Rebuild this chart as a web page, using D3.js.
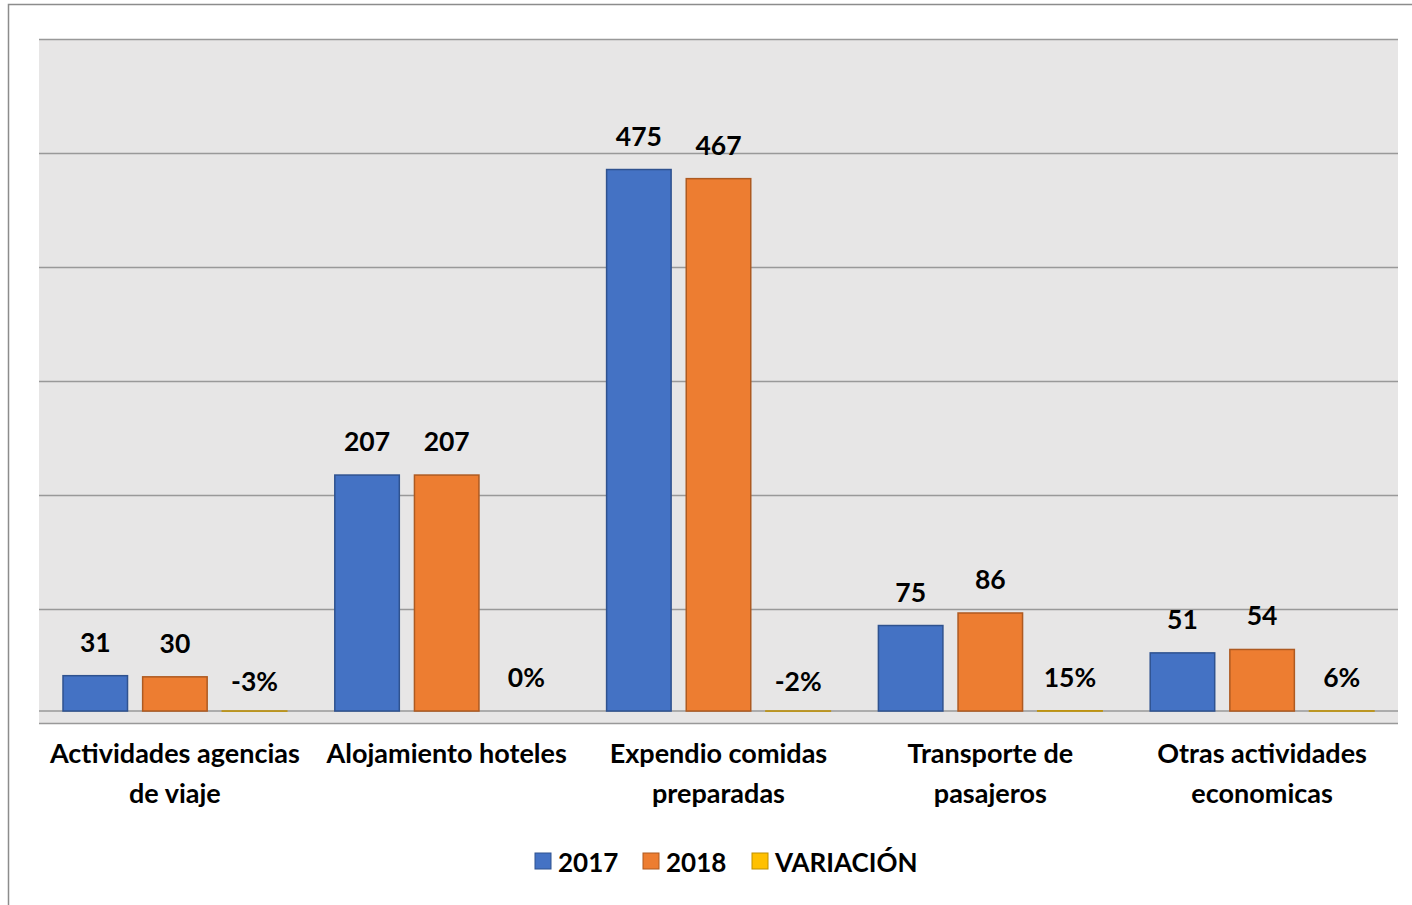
<!DOCTYPE html>
<meta charset="utf-8">
<script src="https://d3js.org/d3.v7.min.js"></script>
<style>
  body { margin: 0; background: #fff; }
  text { font-family: Lato, "Open Sans", sans-serif; font-weight: 700; fill: #000; }
</style>
<div id="chart"></div>
<script>

// data
var categories = [
  ["Actividades agencias", "de viaje"],
  ["Alojamiento hoteles"],
  ["Expendio comidas", "preparadas"],
  ["Transporte de", "pasajeros"],
  ["Otras actividades", "economicas"]
];
var values2017 = [31, 207, 475, 75, 51];
var values2018 = [30, 207, 467, 86, 54];
var variacion = [-0.03, 0, -0.02, 0.15, 0.06];
var seriesNames = ["2017", "2018", "VARIACIÓN"];
var gridTicks = [-10.5, 89.5, 189.5, 289.5, 389.5, 489.5, 589.5];

var colors = { "2017": "#4472c4", "2018": "#ed7d31", "VARIACIÓN": "#ffc000" };
var strokes = { "2017": "#2f528f", "2018": "#ae5a21", "VARIACIÓN": "#bf9000" };

var width = 1412, height = 905;
var plot = { left: 39, right: 1398, top: 39, bottom: 723 };

var pct = d3.formatLocale({ decimal: ".", thousands: ",", grouping: [3], currency: ["", ""], minus: "-" }).format(".0%");

var svg = d3.select("#chart").append("svg")
  .attr("width", width)
  .attr("height", height);

// outer chart border
svg.append("rect")
  .attr("x", 8.5).attr("y", 4.5)
  .attr("width", width + 10).attr("height", height + 10)
  .attr("fill", "#fff")
  .attr("stroke", "#8c8c8c")
  .attr("stroke-width", 1.5);

var catKeys = categories.map(function(d) { return d.join(" "); });

var x0 = d3.scaleBand()
  .domain(catKeys)
  .range([plot.left, plot.right]);

var x1 = d3.scaleBand()
  .domain(seriesNames)
  .range([24, x0.bandwidth() - 24])
  .paddingInner(0.19);

var y = d3.scaleLinear()
  .domain([gridTicks[0], gridTicks[gridTicks.length - 1]])
  .range([plot.bottom, plot.top]);

// plot background
svg.append("rect")
  .attr("x", plot.left).attr("y", plot.top)
  .attr("width", plot.right - plot.left)
  .attr("height", plot.bottom - plot.top)
  .attr("fill", "#e7e6e6");

// gridlines
svg.append("g")
  .attr("transform", "translate(" + plot.left + ",0)")
  .call(d3.axisLeft(y).tickValues(gridTicks).tickSize(-(plot.right - plot.left)).tickFormat(""))
  .call(function(g) { g.select(".domain").remove(); })
  .selectAll("line")
    .attr("stroke", "#999")
    .attr("stroke-width", 1.5);

// zero line
svg.append("line")
  .attr("x1", plot.left).attr("x2", plot.right)
  .attr("y1", y(0)).attr("y2", y(0))
  .attr("stroke", "#999")
  .attr("stroke-width", 1.5);

var rows = catKeys.map(function(k, i) {
  return { key: k, lines: categories[i], vals: [
    { s: "2017", v: values2017[i], label: String(values2017[i]) },
    { s: "2018", v: values2018[i], label: String(values2018[i]) },
    { s: "VARIACIÓN", v: variacion[i], label: pct(variacion[i]) }
  ] };
});

var groups = svg.selectAll(".cat")
  .data(rows)
  .enter()
  .append("g")
    .attr("class", "cat")
    .attr("transform", function(d) { return "translate(" + x0(d.key) + ",0)"; });

groups.selectAll("rect")
  .data(function(d) { return d.vals; })
  .enter()
  .append("rect")
    .attr("x", function(d) { return x1(d.s); })
    .attr("y", function(d) { return y(Math.max(d.v, 0)); })
    .attr("width", x1.bandwidth())
    .attr("height", function(d) { return Math.abs(y(d.v) - y(0)); })
    .attr("fill", function(d) { return colors[d.s]; })
    .attr("stroke", function(d) { return d.v === 0 ? "none" : strokes[d.s]; })
    .attr("stroke-width", 1.5);

groups.selectAll(".lbl")
  .data(function(d) { return d.vals; })
  .enter()
  .append("text")
    .attr("class", "lbl")
    .attr("x", function(d) { return x1(d.s) + x1.bandwidth() / 2; })
    .attr("y", function(d) { return y(Math.max(d.v, 0)) - (d.v < 0 ? 20 : 24); })
    .attr("text-anchor", "middle")
    .style("font-size", "26.5px")
    .text(function(d) { return d.label; });

// category labels
groups.append("text")
    .attr("x", x0.bandwidth() / 2)
    .attr("y", 763)
    .attr("text-anchor", "middle")
    .style("font-size", "27px")
  .selectAll("tspan")
  .data(function(d) { return d.lines; })
  .enter()
  .append("tspan")
    .attr("x", x0.bandwidth() / 2)
    .attr("dy", function(d, i) { return i === 0 ? 0 : 40; })
    .text(function(d) { return d; });

// legend
var legendX = [535, 643, 752];
var legend = svg.selectAll(".legend")
  .data(seriesNames)
  .enter()
  .append("g")
    .attr("class", "legend")
    .attr("transform", function(d, i) { return "translate(" + legendX[i] + ",853)"; });

legend.append("rect")
  .attr("width", 16).attr("height", 16)
  .attr("fill", function(d) { return colors[d]; })
  .attr("stroke", function(d) { return strokes[d]; })
  .attr("stroke-width", 1);

legend.append("text")
  .attr("x", 23)
  .attr("y", 19)
  .style("font-size", "26px")
  .text(function(d) { return d; });

</script>
